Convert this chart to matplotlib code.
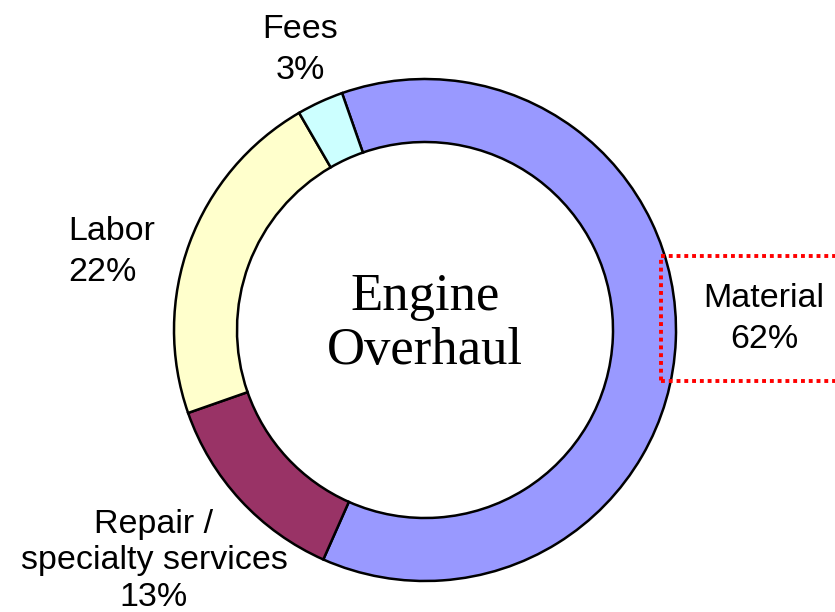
import matplotlib.pyplot as plt
from matplotlib.patches import Rectangle

# slice data (clockwise from the top)
labels = ["Material", "Repair /\nspecialty services", "Labor", "Fees"]
shares = [62, 13, 22, 3]
colors = ["#9999FF", "#993366", "#FFFFCC", "#CCFFFF"]
center_title = "Engine\nOverhaul"

fig = plt.figure(figsize=(8.35, 6.12), dpi=100)
ax = fig.add_axes([0, 0, 1, 1])

ax.pie(shares, colors=colors, startangle=109.3, counterclock=False,
       center=(425, 282), radius=251, frame=True,
       wedgeprops=dict(width=63, edgecolor="black", linewidth=1.8))
ax.set_xlim(0, 835)
ax.set_ylim(0, 612)
ax.axis("off")

lab_font = dict(family="Liberation Sans", fontsize=24.5, color="black")
# label positions in pixel space (y measured from bottom)
ax.text(764, 293, f"{labels[0]}\n{shares[0]}%", ha="center", va="center",
        multialignment="center", linespacing=1.45, **lab_font)
ax.text(154, 51, f"{labels[1]}\n{shares[1]}%", ha="center", va="center",
        multialignment="center", linespacing=1.25, **lab_font)
ax.text(68, 360, f"{labels[2]}\n{shares[2]}%", ha="left", va="center",
        multialignment="left", linespacing=1.4, **lab_font)
ax.text(300, 562, f"{labels[3]}\n{shares[3]}%", ha="center", va="center",
        multialignment="center", linespacing=1.4, **lab_font)

ax.text(425, 288, center_title, ha="center", va="center",
        family="Liberation Serif", fontsize=38, linespacing=1.15)

# red dotted highlight box around the Material label
ax.add_patch(Rectangle((661, 231), 200, 125, fill=False, edgecolor="red",
                       linewidth=2.8, linestyle=(0, (1, 1)), clip_on=False))

fig.savefig("out.png", dpi=100)
